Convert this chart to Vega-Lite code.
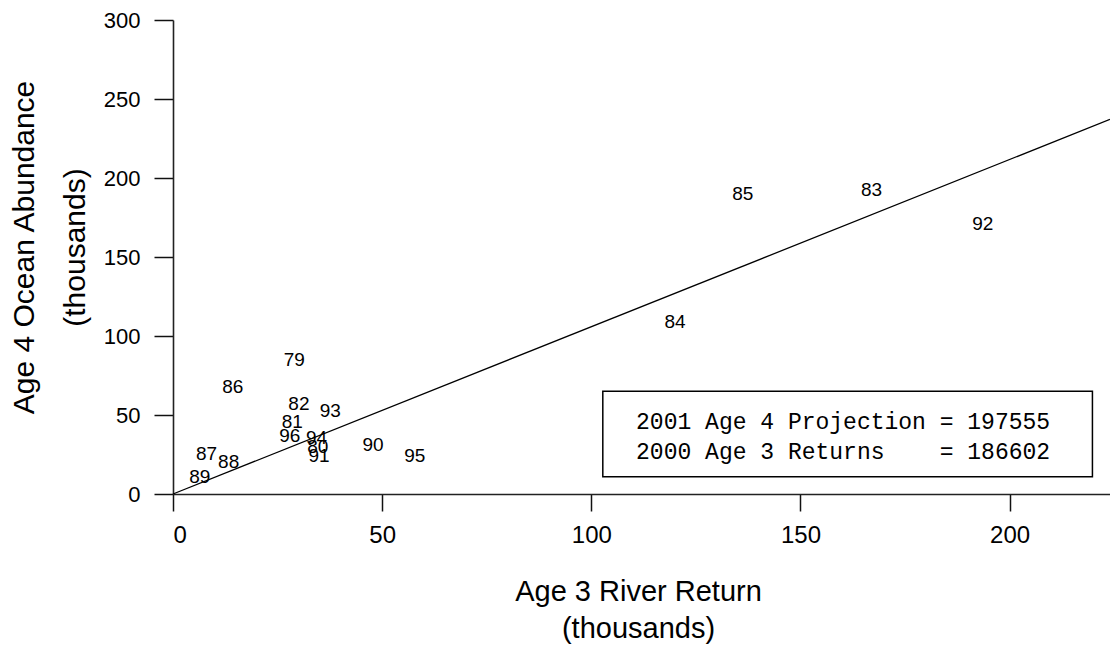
{
  "$schema": "https://vega.github.io/schema/vega-lite/v6.json",
  "width": 937,
  "height": 474,
  "autosize": {"type": "none"},
  "padding": {"left": 173, "top": 20, "right": 0, "bottom": 156},
  "background": "white",
  "config": {
    "view": {"stroke": null},
    "axis": {
      "grid": false,
      "domainColor": "#222",
      "domainWidth": 1.6,
      "tickColor": "#111",
      "tickWidth": 1.5,
      "labelColor": "black",
      "titleColor": "black",
      "labelFont": "Liberation Sans",
      "titleFont": "Liberation Sans",
      "titleFontWeight": "normal"
    }
  },
  "datasets": {
    "years": [
      {"year": "79", "return": 29.0, "abundance": 84.5},
      {"year": "80", "return": 34.6, "abundance": 29.8},
      {"year": "81", "return": 28.5, "abundance": 45.6},
      {"year": "82", "return": 30.1, "abundance": 56.9},
      {"year": "83", "return": 167.0, "abundance": 192.1},
      {"year": "84", "return": 120.0, "abundance": 108.9},
      {"year": "85", "return": 136.2, "abundance": 190.0},
      {"year": "86", "return": 14.3, "abundance": 68.0},
      {"year": "87", "return": 8.0, "abundance": 25.6},
      {"year": "88", "return": 13.3, "abundance": 20.1},
      {"year": "89", "return": 6.4, "abundance": 10.9},
      {"year": "90", "return": 47.8, "abundance": 30.7},
      {"year": "91", "return": 34.9, "abundance": 23.9},
      {"year": "92", "return": 193.6, "abundance": 170.8},
      {"year": "93", "return": 37.6, "abundance": 52.3},
      {"year": "94", "return": 34.3, "abundance": 35.5},
      {"year": "95", "return": 57.8, "abundance": 24.3},
      {"year": "96", "return": 27.9, "abundance": 36.5}
    ],
    "fit": [
      {"return": 0, "abundance": 0},
      {"return": 224, "abundance": 237.1}
    ],
    "box": [
      {"return": 102.75, "return2": 219.8, "abundance": 65.0, "abundance2": 10.9}
    ],
    "note": [
      {"return": 110.7, "abundance": 41.2, "text": "2001 Age 4 Projection = 197555"},
      {"return": 110.7, "abundance": 22.3, "text": "2000 Age 3 Returns\u00a0\u00a0\u00a0\u00a0= 186602"}
    ]
  },
  "encoding": {
    "x": {
      "field": "return",
      "type": "quantitative",
      "scale": {"domain": [0, 224], "nice": false, "zero": false},
      "axis": {
        "title": ["Age 3 River Return", "(thousands)"],
        "values": [0, 50, 100, 150, 200],
        "tickSize": 17,
        "labelPadding": 12,
        "labelFontSize": 24,
        "titleFontSize": 29,
        "titleLineHeight": 37,
        "titleAlign": "center",
        "titleBaseline": "alphabetic",
        "titleX": 465,
        "titleY": 106
      }
    },
    "y": {
      "field": "abundance",
      "type": "quantitative",
      "scale": {"domain": [0, 300], "nice": false},
      "axis": {
        "title": ["Age 4 Ocean Abundance", "(thousands)"],
        "values": [0, 50, 100, 150, 200, 250, 300],
        "tickSize": 19,
        "labelPadding": 14,
        "labelFontSize": 22,
        "titleFontSize": 30,
        "titleLineHeight": 51,
        "titleAngle": -90,
        "titleAlign": "center",
        "titleBaseline": "alphabetic",
        "titleX": -140,
        "titleY": 227
      }
    }
  },
  "layer": [
    {
      "data": {"name": "fit"},
      "mark": {"type": "line", "color": "black", "strokeWidth": 1.3},
      "encoding": {}
    },
    {
      "data": {"name": "years"},
      "mark": {"type": "text", "font": "Liberation Sans", "fontSize": 19, "color": "black", "align": "center", "baseline": "middle"},
      "encoding": {"text": {"field": "year", "type": "nominal"}}
    },
    {
      "data": {"name": "box"},
      "mark": {"type": "rect", "fill": "white", "stroke": "black", "strokeWidth": 1.5},
      "encoding": {
        "x2": {"field": "return2"},
        "y2": {"field": "abundance2"}
      }
    },
    {
      "data": {"name": "note"},
      "mark": {"type": "text", "font": "Liberation Mono", "fontSize": 23, "color": "black", "align": "left", "baseline": "alphabetic"},
      "encoding": {"text": {"field": "text", "type": "nominal"}}
    }
  ]
}
